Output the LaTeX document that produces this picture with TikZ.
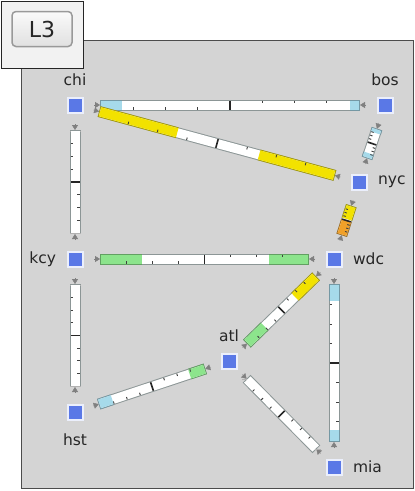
\documentclass[tikz,border=0pt]{standalone}
\usepackage{fontspec}
\setmainfont{DejaVu Sans}
\usetikzlibrary{calc,arrows.meta}

\definecolor{panelgray}{HTML}{D4D4D4}
\definecolor{nodeblue}{HTML}{5A78E6}
\definecolor{barblue}{HTML}{A6DAEA}
\definecolor{baryellow}{HTML}{F2E200}
\definecolor{bargreen}{HTML}{8CE48C}
\definecolor{barorange}{HTML}{F0A028}
\definecolor{baredge}{HTML}{8C9696}
\definecolor{tipgray}{HTML}{808080}

\begin{document}
\begin{tikzpicture}[x=1pt,y=-1pt,
  router/.style={draw=nodeblue!12!white, line width=2pt, fill=nodeblue, minimum size=15pt, inner sep=0pt},
  lbl/.style={font=\fontsize{15.5}{17}\selectfont, text=black!85},
  label distance=7pt,
  >={Triangle[length=5pt,width=6pt]}]
 \useasboundingbox (0,0) rectangle (415,491); %全体
 \fill[white] (0,0) rectangle (415,491); %背景
 \draw[fill=panelgray, draw=black!70, line width=1pt] (21,40) rectangle (413,488); %パネル
 \draw[fill=black!5, draw=black!85, line width=1pt] (1,1) rectangle (83,68); %ボタン枠
 \node[draw=black!40, line width=1.5pt, rounded corners=4pt, top color=black!2, bottom color=black!12,
   minimum width=60pt, minimum height=35pt, font=\fontsize{22}{24}\selectfont, text=black!85] (btn) at (42,29) {L3}; %ボタン

 \node[router, label={[lbl]above:chi}] (chi) at (75,105) {}; %chi
 \node[router, label={[lbl]above:bos}] (bos) at (385,105) {}; %bos
 \node[router, label={[lbl]right:nyc}] (nyc) at (359,182) {}; %nyc
 \node[router, label={[lbl]right:wdc}] (wdc) at (334,259) {}; %wdc
 \node[router, label={[lbl]left:kcy}] (kcy) at (75,259) {}; %kcy
 \node[router, label={[lbl]above:atl}] (atl) at (229,361) {}; %atl
 \node[router, label={[lbl, label distance=10pt]below:hst}] (hst) at (75,412) {}; %hst
 \node[router, label={[lbl]right:mia}] (mia) at (334,467) {}; %mia

 % リンク: 端点/端点/使用率a/使用率b/色a/色b
 \foreach \a/\b/\fa/\fb/\ca/\cb in {chi/bos/0.08/0.035/barblue/barblue, chi/nyc/0.33/0.32/baryellow/baryellow,
   bos/nyc/0.12/0.15/barblue/barblue, nyc/wdc/0.45/0.5/baryellow/barorange, chi/kcy/0/0/white/white,
   kcy/wdc/0.2/0.19/bargreen/bargreen, kcy/hst/0/0/white/white, wdc/atl/0.3/0.25/baryellow/bargreen,
   wdc/mia/0.1/0.07/barblue/barblue, atl/hst/0.14/0.12/bargreen/barblue, atl/mia/0/0/white/white}{
  \coordinate (s) at ($(\a)!26pt!(\b)$); %バー始点
  \coordinate (e) at ($(\b)!26pt!(\a)$); %バー終点
  \draw[tipgray,->] ($(\a)!19pt!(\b)$)--($(\a)!25pt!(\b)$); %矢印a
  \draw[tipgray,->] ($(\b)!19pt!(\a)$)--($(\b)!25pt!(\a)$); %矢印b
  \draw[baredge, line width=11pt, shorten <=-1pt, shorten >=-1pt] (s)--(e); %枠
  \draw[\ca!70!black, line width=11pt, shorten <=-1pt] (s)--($(s)!\fa!(e)$); %色枠a
  \draw[\cb!70!black, line width=11pt, shorten <=-1pt] (e)--($(e)!\fb!(s)$); %色枠b
  \draw[white, line width=9pt] (s)--(e); %中身
  \draw[\ca, line width=9pt] (s)--($(s)!\fa!(e)$); %使用率a
  \draw[\cb, line width=9pt] (e)--($(e)!\fb!(s)$); %使用率b
  \coordinate (m) at ($(s)!0.5!(e)$); %中央
  \draw[black!85, line width=1.6pt] ($(m)!4.5pt!90:(e)$)--($(m)!4.5pt!-90:(e)$); %中央目盛
  \foreach \k in {1,2,3}{
   \coordinate (p) at ($(s)!\k/8!(e)$);
   \draw[black!75, line width=0.9pt] ($(p)!4.5pt!-90:(e)$)--($(p)!2pt!-90:(e)$); %目盛a
   \coordinate (q) at ($(e)!\k/8!(s)$);
   \draw[black!75, line width=0.9pt] ($(q)!4.5pt!-90:(s)$)--($(q)!2pt!-90:(s)$); %目盛b
  }
 }
\end{tikzpicture}
\end{document}
